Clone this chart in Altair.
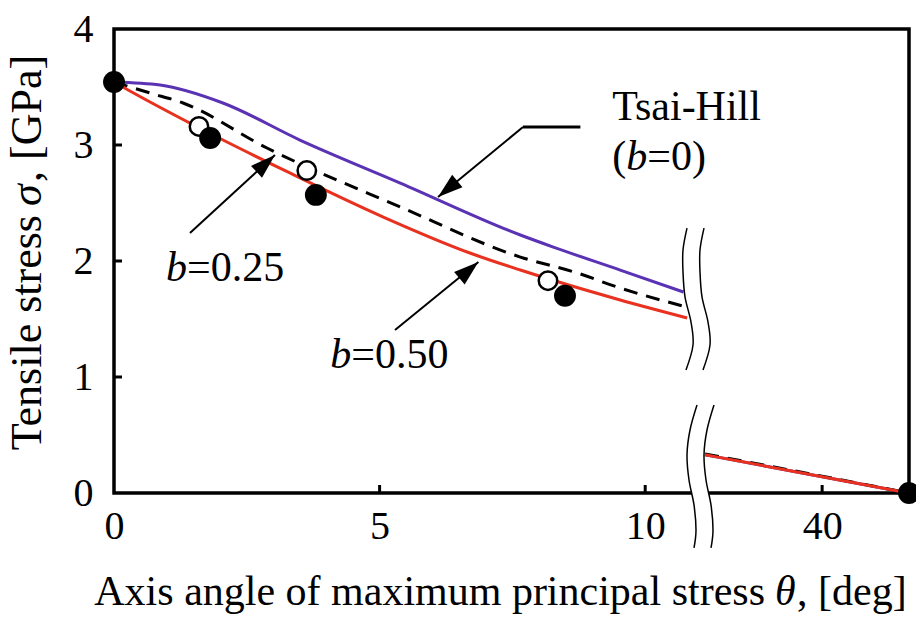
import altair as alt
import pandas as pd

FONT = "Liberation Serif"
PURPLE = "#5a32b4"
RED = "#e8311e"
FS = 42

# ---------------- data (theta in deg, sigma in GPa) ----------------
TH_THETA_L = [0, 0.87, 2.05, 3.50, 5.39, 7.65, 8.27, 9.53, 10.72]
TH_SIGMA_L = [3.543, 3.517, 3.362, 3.043, 2.672, 2.224, 2.12, 1.922, 1.733]
B25_THETA_L = [0, 0.68, 1.30, 2.88, 5.39, 7.65, 8.72, 9.47, 10.85]
B25_SIGMA_L = [3.543, 3.448, 3.362, 2.974, 2.466, 2.034, 1.897, 1.776, 1.595]
B50_THETA_L = [0, 0.30, 1.94, 3.31, 5.07, 6.70, 7.65, 9.53, 10.79]
B50_SIGMA_L = [3.543, 3.466, 3.069, 2.759, 2.379, 2.069, 1.922, 1.664, 1.509]
R_THETA = [33.26, 40, 45]
TH_SIGMA_R = [0.33, 0.14, 0.0]
B25_SIGMA_R = [0.337, 0.145, 0.0]
B50_SIGMA_R = [0.33, 0.14, 0.0]

FILLED_THETA = [0, 1.81, 3.80, 8.49, 45]
FILLED_SIGMA = [3.543, 3.06, 2.57, 1.70, 0.0]
OPEN_THETA = [1.60, 3.63, 8.17]
OPEN_SIGMA = [3.16, 2.78, 1.83]

X_TICKS = [0, 5, 10, 40]
Y_TICKS = [0, 1, 2, 3, 4]

# annotation arrows: start (theta, sigma) -> tip (theta, sigma), head angle
ARROW_T0 = [7.70, 1.43, 5.29]
ARROW_S0 = [3.155, 2.241, 1.405]
ARROW_T1 = [6.10, 3.03, 6.86]
ARROW_S1 = [2.552, 2.914, 1.991]
ARROW_ANG = [230.5, 47.5, 49.5]

# axis-break symbol (x in plot pixels, y in sigma units)
BRK_UP_X = [573, 569, 569, 571, 577, 579, 572]
BRK_UP_S = [2.284, 2.095, 1.905, 1.690, 1.474, 1.276, 1.060]
BRK_LO_X = [583, 576, 573, 575, 580, 582, 580]
BRK_LO_S = [0.759, 0.543, 0.328, 0.112, -0.103, -0.319, -0.474]
BRK_GAP = 17

W, H = 795, 464

xscale = alt.Scale(domain=[0, 10.9, 33.2, 45], range=[0, 579, 590, 795], nice=False, zero=False)
yscale = alt.Scale(domain=[0, 4], nice=False, zero=False)

def curve(name, tl, sl, sr):
    rows = [{"theta": t, "sigma": s, "seg": name + "L"} for t, s in zip(tl, sl)]
    rows += [{"theta": t, "sigma": s, "seg": name + "R"} for t, s in zip(R_THETA, sr)]
    return pd.DataFrame(rows)

df_th = curve("th", TH_THETA_L, TH_SIGMA_L, TH_SIGMA_R)
df_25 = curve("b25", B25_THETA_L, B25_SIGMA_L, B25_SIGMA_R)
df_50 = curve("b50", B50_THETA_L, B50_SIGMA_L, B50_SIGMA_R)

xenc = alt.X("theta:Q", scale=xscale,
             axis=alt.Axis(values=X_TICKS, title=None, tickSize=0, domain=False, grid=False,
                           labelPadding=13, labelFlush=False, format="d"))
yenc = alt.Y("sigma:Q", scale=yscale,
             axis=alt.Axis(values=Y_TICKS, title=None, tickSize=0, domain=False, grid=False,
                           labelPadding=21, labelFlush=False, format="d"))

def line_layer(df, color, dash=None):
    kw = dict(color=color, strokeWidth=3, clip=False, interpolate="monotone")
    if dash:
        kw["strokeDash"] = dash
    return alt.Chart(df).mark_line(**kw).encode(x=xenc, y=yenc, detail="seg:N", order="theta:Q")

l_th = line_layer(df_th, PURPLE)
l_25 = line_layer(df_25, "black", [14, 9])
l_50 = line_layer(df_50, RED)

# inward ticks
df_yt = pd.DataFrame({"sigma": [1, 2, 3]})
yt = alt.Chart(df_yt).mark_rule(color="black", strokeWidth=3).encode(
    y=alt.Y("sigma:Q", scale=yscale), x=alt.value(0), x2=alt.value(8))
df_xt = pd.DataFrame({"theta": [5, 10, 40]})
xt = alt.Chart(df_xt).mark_rule(color="black", strokeWidth=3).encode(
    x=alt.X("theta:Q", scale=xscale), y=alt.value(H), y2=alt.value(H - 8))

# points
df_open = pd.DataFrame({"theta": OPEN_THETA, "sigma": OPEN_SIGMA})
p_open = alt.Chart(df_open).mark_point(shape="circle", size=340, fill="white", filled=False,
                                       stroke="black", strokeWidth=2.5, opacity=1, clip=False).encode(
    x=alt.X("theta:Q", scale=xscale), y=alt.Y("sigma:Q", scale=yscale))
df_fill = pd.DataFrame({"theta": FILLED_THETA, "sigma": FILLED_SIGMA})
p_fill = alt.Chart(df_fill).mark_point(shape="circle", size=480, filled=True, color="black",
                                       opacity=1, clip=False).encode(
    x=alt.X("theta:Q", scale=xscale), y=alt.Y("sigma:Q", scale=yscale))

# arrows
df_arr = pd.DataFrame({"t0": ARROW_T0, "s0": ARROW_S0, "t1": ARROW_T1, "s1": ARROW_S1, "ang": ARROW_ANG})
a_line = alt.Chart(df_arr).mark_rule(color="black", strokeWidth=2).encode(
    x=alt.X("t0:Q", scale=xscale), y=alt.Y("s0:Q", scale=yscale), x2="t1:Q", y2="s1:Q")
a_head = alt.Chart(df_arr).mark_point(shape="M0,0L-0.65,2L0.65,2Z", size=625, filled=True,
                                      color="black", opacity=1).encode(
    x=alt.X("t1:Q", scale=xscale), y=alt.Y("s1:Q", scale=yscale),
    angle=alt.Angle("ang:Q", scale=None))
df_hz = pd.DataFrame({"t0": [ARROW_T0[0]], "t1": [8.78], "s0": [ARROW_S0[0]]})
a_hz = alt.Chart(df_hz).mark_rule(color="black", strokeWidth=3).encode(
    x=alt.X("t0:Q", scale=xscale), x2="t1:Q", y=alt.Y("s0:Q", scale=yscale))

# labels
def txt(theta, sigma, s, dx=0, italic=False, align="left"):
    df = pd.DataFrame({"theta": [theta], "sigma": [sigma]})
    return alt.Chart(df).mark_text(text=s, font=FONT, fontSize=FS, align=align, baseline="middle",
                                   dx=dx, fontStyle="italic" if italic else "normal",
                                   color="black").encode(
        x=alt.X("theta:Q", scale=xscale), y=alt.Y("sigma:Q", scale=yscale))

labels = [
    txt(9.38, 3.33, "Tsai-Hill"),
    txt(9.38, 2.90, "("),
    txt(9.38, 2.90, "b", dx=14, italic=True),
    txt(9.38, 2.90, "=0)", dx=35),
    txt(0.98, 1.94, "b", italic=True),
    txt(0.98, 1.94, "=0.25", dx=21),
    txt(4.07, 1.19, "b", italic=True),
    txt(4.07, 1.19, "=0.50", dx=21),
]

# axis titles (pieces, for italic symbols)
one = pd.DataFrame({"a": [0]})
def ptxt(x, y, s, italic=False, align="left", angle=0, fs=FS):
    return alt.Chart(one).mark_text(text=s, font=FONT, fontSize=fs, align=align, baseline="middle",
                                    angle=angle, fontStyle="italic" if italic else "normal",
                                    color="black").encode(x=alt.value(x), y=alt.value(y))

titles = [
    ptxt(651, 563, "Axis angle of maximum principal stress", align="right"),
    ptxt(661, 563, "θ", italic=True),
    ptxt(683, 563, ", [deg]"),
    ptxt(-86, 186, "Tensile stress", align="right", angle=270, fs=44),
    ptxt(-86, 177, "σ", italic=True, angle=270, fs=44),
    ptxt(-86, 153, ", [GPa]", angle=270, fs=44),
]

# break symbol
bx = alt.Scale(domain=[0, W], range=[0, W], nice=False, zero=False)
def brk(xs, ss, name):
    return pd.DataFrame({"bx": xs, "bx2": [v + BRK_GAP for v in xs], "sigma": ss, "g": name})
df_brk = pd.concat([brk(BRK_UP_X, BRK_UP_S, "u"), brk(BRK_LO_X, BRK_LO_S, "l")])
b_area = alt.Chart(df_brk).mark_area(orient="horizontal", color="white", interpolate="cardinal",
                                     clip=False, opacity=1).encode(
    x=alt.X("bx:Q", scale=bx, axis=None), x2="bx2:Q",
    y=alt.Y("sigma:Q", scale=yscale), detail="g:N")
b_l1 = alt.Chart(df_brk).mark_line(color="black", strokeWidth=1.5, interpolate="cardinal", clip=False).encode(
    x=alt.X("bx:Q", scale=bx, axis=None), y=alt.Y("sigma:Q", scale=yscale), detail="g:N",
    order="sigma:Q")
b_l2 = alt.Chart(df_brk).mark_line(color="black", strokeWidth=1.5, interpolate="cardinal", clip=False).encode(
    x=alt.X("bx2:Q", scale=bx, axis=None), y=alt.Y("sigma:Q", scale=yscale), detail="g:N",
    order="sigma:Q")
brk_layer = alt.layer(b_area, b_l1, b_l2)

main = alt.layer(l_th, l_25, l_50, yt, xt, a_line, a_hz, a_head, p_open, p_fill, *labels, *titles)

chart = alt.layer(main, brk_layer).resolve_scale(x="independent").properties(
    width=W, height=H,
    autosize=alt.AutoSizeParams(type="none"),
    padding={"left": 114, "top": 29, "right": 7, "bottom": 126},
    background="white",
).configure_view(stroke="black", strokeWidth=3.5).configure_axis(
    labelFont=FONT, labelFontSize=40, labelColor="black"
)

chart.save("out.html", embed_options={"renderer": "svg", "actions": False})
